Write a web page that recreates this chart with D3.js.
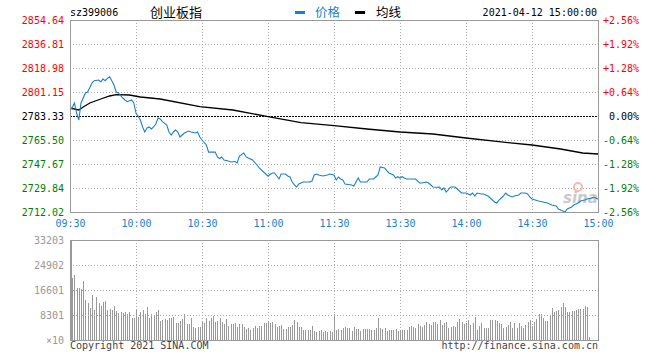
<!DOCTYPE html>
<html><head><meta charset="utf-8">
<script src="https://cdn.jsdelivr.net/npm/d3@7"></script>
<style>body{margin:0;background:#fff}svg{display:block}</style>
</head><body>
<script>
// ---- data ----
const stockCode = "sz399006";
const stockName = "创业板指";
const dateTime = "2021-04-12 15:00:00";
const prevClose = 2783.33;
const priceTickVals = [2854.64, 2836.81, 2818.98, 2801.15, 2783.33, 2765.50, 2747.67, 2729.84, 2712.02];
const pctTickLabels = ["+2.56%", "+1.92%", "+1.28%", "+0.64%", "0.00%", "-0.64%", "-1.28%", "-1.92%", "-2.56%"];
const timeTickMin = [0, 30, 60, 90, 120, 150, 180, 210, 240];
const timeTickLabels = ["09:30", "10:00", "10:30", "11:00", "11:30", "13:30", "14:00", "14:30", "15:00"];
const volTickVals = [33203, 24902, 16601, 8301, 0];
const volTickLabels = ["33203", "24902", "16601", "8301", "×10"];

// trading minute index (0 = 09:30, 120 = 11:30/13:00, 240 = 15:00)
const priceMin = [0,1,2,3,4,5,7,8,10,11,13,14,15,16,17,18,19,20,21,22,24,25,26,28,29,30,32,33,34,35,36,37,38,39,40,41,42,44,45,46,47,48,49,50,51,52,54,55,57,58,59,60,62,63,66,67,68,69,70,72,73,75,76,77,79,80,81,83,85,86,88,90,92,93,95,96,98,99,100,101,102,103,104,106,109,110,111,112,113,115,117,118,120,121,122,123,124,125,128,129,130,131,132,135,136,138,139,140,141,143,144,145,147,148,149,150,151,152,153,157,159,160,162,163,164,165,167,168,169,170,171,173,175,176,178,180,182,183,184,185,187,188,190,191,193,194,195,197,198,199,201,202,204,205,207,208,209,210,213,215,217,219,221,222,224,225,226,228,229,231,232,234,235,237,238,240];
const priceVal = [2787.79,2789.27,2792.99,2785.56,2780.36,2792.99,2800.41,2801.16,2807.84,2809.55,2810.07,2808.81,2810.81,2809.55,2811.33,2812.52,2809.55,2806.36,2801.16,2800.41,2796.70,2795.21,2793.95,2795.21,2792.99,2785.56,2780.36,2775.16,2771.45,2774.42,2775.16,2773.67,2775.16,2777.40,2781.84,2781.10,2779.10,2776.65,2771.45,2769.22,2771.45,2772.93,2771.45,2767.73,2769.22,2770.70,2772.19,2771.45,2770.70,2771.45,2767.73,2765.50,2761.79,2756.53,2756.53,2752.87,2751.75,2752.87,2750.65,2749.90,2749.16,2749.53,2748.42,2753.62,2755.85,2753.10,2752.13,2750.65,2746.93,2744.71,2741.74,2738.76,2740.99,2740.99,2736.53,2740.25,2740.25,2738.76,2738.02,2734.31,2732.08,2730.59,2732.82,2734.31,2734.31,2735.05,2739.50,2740.25,2739.50,2738.76,2739.50,2740.25,2739.50,2735.79,2738.02,2736.53,2735.79,2732.82,2732.08,2731.33,2734.31,2737.28,2734.31,2734.31,2736.53,2736.53,2738.02,2739.50,2745.45,2744.71,2742.70,2740.99,2739.50,2737.28,2738.25,2737.28,2738.25,2737.28,2736.53,2736.53,2733.56,2733.56,2734.31,2733.56,2732.08,2730.59,2730.36,2730.59,2728.36,2729.85,2726.88,2730.59,2730.59,2729.10,2726.13,2726.13,2724.65,2726.13,2723.90,2726.13,2725.39,2725.39,2723.90,2722.42,2719.45,2718.71,2720.93,2723.90,2726.13,2724.65,2723.16,2723.90,2724.65,2726.13,2726.13,2725.39,2723.16,2721.68,2720.19,2719.45,2718.71,2717.22,2716.48,2714.25,2712.77,2712.02,2714.25,2715.74,2717.22,2718.71,2720.19,2720.93,2721.68,2722.42,2723.16,2721.68];

const avgMin = [0,4,6,9,14,18,21,27,32,41,59,74,90,105,120,135,150,165,180,195,210,223,233,240];
const avgVal = [2789.27,2787.79,2790.02,2792.99,2795.96,2798.19,2799.15,2798.93,2797.44,2795.96,2790.24,2787.79,2782.81,2778.35,2776.12,2773.67,2771.45,2769.96,2766.99,2764.24,2761.79,2758.82,2755.85,2755.11];

// volume per trading minute (units ×10)
const volumes = [33203,
20700,21580,17380,17380,16930,19590,13280,12170,10730,14940,9960,14390,12400,11400,12510,12950,9960,10290,9960,11400,9630,8850,9190,8850,9190,8520,9190,7410,7190,9960,7750,9190,9960,8520,11070,7410,8520,8300,9190,9960,6310,6640,6970,6640,7410,7190,7750,5530,5530,6310,6970,8520,5200,5200,7190,4430,4100,4430,4430,6090,5530,7410,6310,7190,8080,5870,6310,7190,5870,5200,6970,4760,5200,5200,5530,4430,5200,5200,4430,3650,4100,3320,4100,4760,3870,4760,4760,5530,5530,6090,5530,6090,5200,4430,4760,4980,3650,3650,4430,4430,4980,6640,5870,4430,4430,3320,3320,3320,3320,4760,2990,2770,2990,3320,2770,2990,2550,2990,
2550,8520,
3320,3650,3320,4100,4430,4100,4100,2990,4430,3650,3650,2990,3650,3650,3650,3650,3320,3320,4100,7410,3870,3650,4100,2990,3320,3320,3320,3650,2990,3320,3320,3320,3320,4430,4760,4430,4100,5200,4760,4430,4980,5870,5200,4980,5870,5870,5200,6640,4980,5530,6090,4100,4430,4760,4430,6090,6970,5870,5200,5530,6640,4980,5530,7750,3320,4760,5530,4100,3870,3870,6640,6640,6640,6310,5530,5200,4100,4430,4980,5870,3870,5530,3870,5530,4760,3870,4980,5870,6640,4760,6090,6970,8520,8520,7190,6310,6310,8300,10730,9190,9630,9960,11070,12170,11070,9190,9190,9630,9630,9960,10290,10290,10290,11400,11070,1000,
0,0,0,0];

// ---- drawing ----
const svg = d3.select("body").append("svg").attr("width", 660).attr("height", 360);
const mono = "'DejaVu Sans Mono', monospace";
const cjk = "'Noto Sans CJK SC', sans-serif";
const RED = "#ff0000", GREEN = "#008000", BLUE = "#1a80d0", GRID = "#aaaaaa", BORDER = "#999999";

const L = 70, R = 598, PT = 20, PB = 212, VT = 240, VB = 340;
const x = d3.scaleLinear().domain([0, 240]).range([L, R]);
const y = d3.scaleLinear().domain([priceTickVals[8], priceTickVals[0]]).range([PB, PT]);
const vy = d3.scaleLinear().domain([0, volTickVals[0]]).range([VB, VT]);
const px = v => Math.round(v) + 0.5;

// grid price
const g = svg.append("g").attr("shape-rendering", "crispEdges");
timeTickMin.slice(1, -1).forEach(m => {
  g.append("line").attr("x1", px(x(m))).attr("x2", px(x(m))).attr("y1", PT).attr("y2", PB)
    .attr("stroke", GRID).attr("stroke-dasharray", "1,2");
  g.append("line").attr("x1", px(x(m))).attr("x2", px(x(m))).attr("y1", VT).attr("y2", VB)
    .attr("stroke", GRID).attr("stroke-dasharray", "1,2");
});
priceTickVals.slice(1, -1).forEach(v => {
  if (v === prevClose) return;
  g.append("line").attr("x1", L).attr("x2", R).attr("y1", px(y(v))).attr("y2", px(y(v)))
    .attr("stroke", GRID).attr("stroke-dasharray", "1,2");
});

// volume bars
const vb = svg.append("g").attr("shape-rendering", "crispEdges");
volumes.forEach((v, i) => {
  if (v <= 0) return;
  vb.append("line").attr("x1", px(x(i))).attr("x2", px(x(i)))
    .attr("y1", Math.round(vy(v))).attr("y2", VB).attr("stroke", "#999999");
});
volTickVals.slice(1, -1).forEach(v => {
  g.clone ? null : null;
  svg.append("line").attr("x1", L).attr("x2", R).attr("y1", px(vy(v))).attr("y2", px(vy(v)))
    .attr("stroke", GRID).attr("stroke-dasharray", "1,2").attr("shape-rendering", "crispEdges");
});

// prev close dashed line
svg.append("line").attr("x1", L).attr("x2", R).attr("y1", px(y(prevClose))).attr("y2", px(y(prevClose)))
  .attr("stroke", "#000").attr("stroke-dasharray", "2,1").attr("shape-rendering", "crispEdges");

// watermark
const wm = svg.append("g").attr("opacity", 0.75);
wm.append("circle").attr("cx", 578).attr("cy", 187).attr("r", 4).attr("fill", "none").attr("stroke", "#f3a0a0").attr("stroke-width", 2);
wm.append("text").attr("x", 563).attr("y", 203).text("sina")
  .attr("font-family", "'DejaVu Sans', sans-serif").attr("font-size", 15).attr("font-weight", "bold")
  .attr("font-style", "italic").attr("fill", "#b8b8b8");

// lines
const avgData = avgMin.map((m, i) => [m, avgVal[i]]);
const priceData = priceMin.map((m, i) => [m, priceVal[i]]);
const line = d3.line().x(d => x(d[0])).y(d => y(d[1]));
svg.append("path").datum(avgData).attr("d", line).attr("fill", "none").attr("stroke", "#000").attr("stroke-width", 1.3);
svg.append("path").datum(priceData).attr("d", line).attr("fill", "none").attr("stroke", BLUE).attr("stroke-width", 1.1);

// borders
[[PT, PB], [VT, VB]].forEach(([t, b]) => {
  svg.append("rect").attr("x", L + 0.5).attr("y", t + 0.5).attr("width", R - L).attr("height", b - t)
    .attr("fill", "none").attr("stroke", BORDER).attr("shape-rendering", "crispEdges");
});
svg.append("line").attr("x1", L + 0.5).attr("x2", L + 0.5).attr("y1", VT).attr("y2", VB + 1)
  .attr("stroke", BORDER).attr("stroke-width", 2).attr("shape-rendering", "crispEdges");

// axes
function styleAxis(sel) {
  sel.select(".domain").remove();
  sel.selectAll(".tick line").remove();
  sel.selectAll("text").attr("font-family", mono).attr("font-size", 10);
}
const ax1 = svg.append("g").attr("transform", `translate(${L},0)`)
  .call(d3.axisLeft(y).tickValues(priceTickVals).tickFormat(d => d.toFixed(2)).tickSize(0).tickPadding(6));
styleAxis(ax1);
ax1.selectAll("text").attr("fill", d => d > prevClose ? RED : (d < prevClose ? GREEN : "#000"));

const ax2 = svg.append("g").attr("transform", `translate(${R},0)`)
  .call(d3.axisRight(y).tickValues(priceTickVals).tickFormat((d, i) => pctTickLabels[i]).tickSize(0).tickPadding(41));
styleAxis(ax2);
ax2.selectAll("text").attr("text-anchor", "end")
  .attr("fill", d => d > prevClose ? RED : (d < prevClose ? GREEN : "#000"));

const ax3 = svg.append("g").attr("transform", `translate(0,${PB})`)
  .call(d3.axisBottom(x).tickValues(timeTickMin).tickFormat((d, i) => timeTickLabels[i]).tickSize(0).tickPadding(8));
styleAxis(ax3);
ax3.selectAll("text").attr("fill", BLUE);

const ax4 = svg.append("g").attr("transform", `translate(${L},0)`)
  .call(d3.axisLeft(vy).tickValues(volTickVals).tickFormat((d, i) => volTickLabels[i]).tickSize(0).tickPadding(6));
styleAxis(ax4);
ax4.selectAll("text").attr("fill", "#999");

// header
svg.append("text").attr("x", 70).attr("y", 16).text(stockCode).attr("font-family", mono).attr("font-size", 10).attr("fill", "#000");
svg.append("text").attr("x", 150).attr("y", 17).text(stockName).attr("font-family", cjk).attr("font-size", 13).attr("fill", "#000");
svg.append("rect").attr("x", 295).attr("y", 11).attr("width", 10).attr("height", 3).attr("fill", BLUE);
svg.append("text").attr("x", 315).attr("y", 17).text("价格").attr("font-family", cjk).attr("font-size", 12.5).attr("fill", BLUE);
svg.append("rect").attr("x", 355).attr("y", 11).attr("width", 10).attr("height", 3).attr("fill", "#000");
svg.append("text").attr("x", 376).attr("y", 17).text("均线").attr("font-family", cjk).attr("font-size", 12.5).attr("fill", "#000");
svg.append("text").attr("x", 597).attr("y", 16).attr("text-anchor", "end").text(dateTime).attr("font-family", mono).attr("font-size", 10).attr("fill", "#000");

// footer
svg.append("text").attr("x", 70).attr("y", 349).text("Copyright 2021 SINA.COM").attr("font-family", mono).attr("font-size", 10).attr("fill", "#444");
svg.append("text").attr("x", 598).attr("y", 349).attr("text-anchor", "end").text("http://finance.sina.com.cn").attr("font-family", mono).attr("font-size", 10).attr("fill", "#444");
</script>
</body></html>
